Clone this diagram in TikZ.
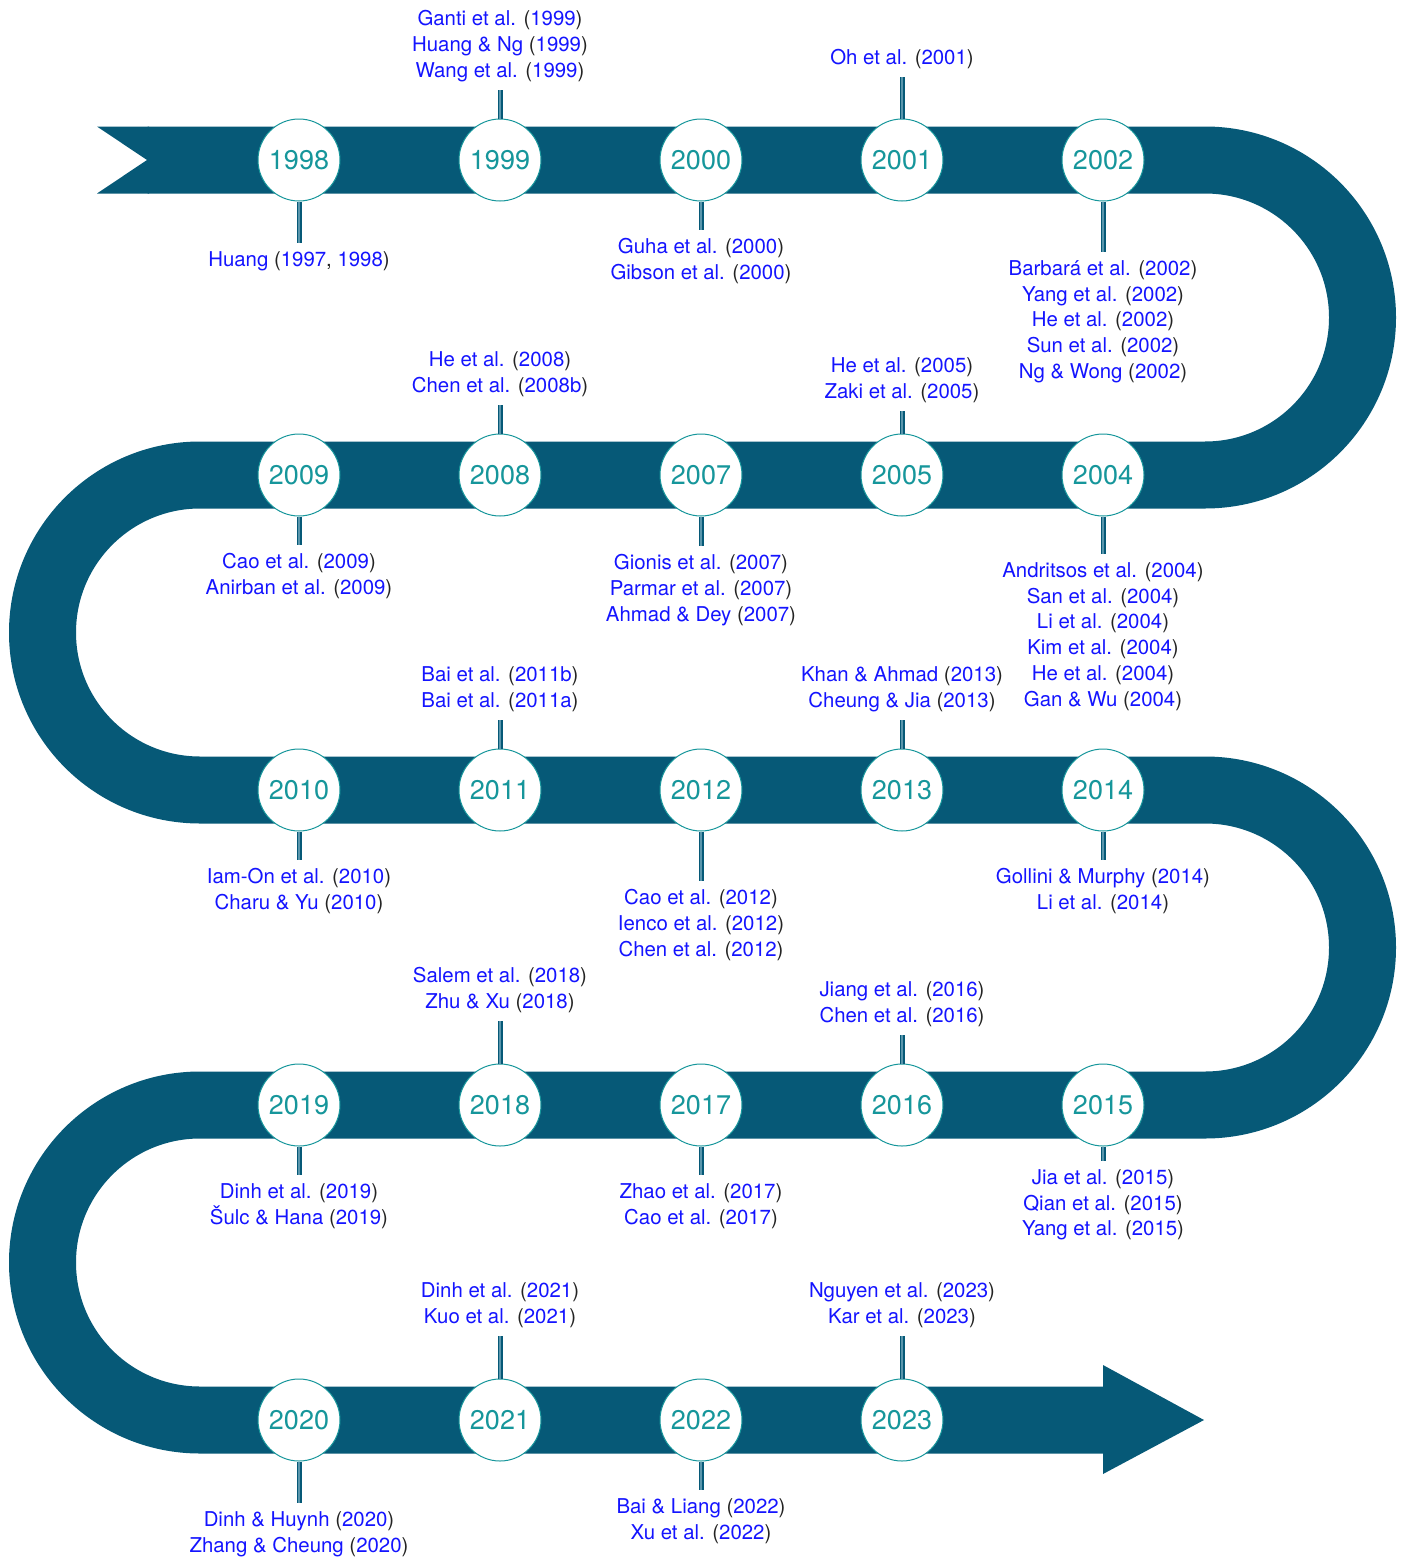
\documentclass[tikz,border=0pt]{standalone}
\usepackage{fontspec}
\setmainfont{TeX Gyre Heros}
\definecolor{bandc}{RGB}{6,89,119}
\definecolor{yteal}{RGB}{22,150,155}
\definecolor{cblue}{RGB}{20,20,255}
\definecolor{pgray}{RGB}{35,35,35}
\definecolor{cstripe}{RGB}{90,150,172}
\newcommand{\rf}[2]{\textcolor{cblue}{#1} \textcolor{pgray}{(}\textcolor{cblue}{#2}\textcolor{pgray}{)}}
\begin{document}
\begin{tikzpicture}[x=0.5pt,y=-0.5pt,
  bandline/.style={draw=bandc,line width=33.5pt,line cap=butt,line join=round},
  yr/.style={circle,draw=yteal,line width=0.5pt,fill=white,minimum size=41pt,inner sep=0pt,text=yteal,font=\fontsize{13.5}{15}\selectfont},
  reftext/.style={align=center,inner sep=4pt,font=\fontsize{10.2}{12.9}\selectfont},
  bel/.style={reftext,anchor=north},
  abv/.style={reftext,anchor=south},
  conn/.style={draw=bandc,double=cstripe,line width=0.7pt,double distance=1.1pt,line cap=butt}]
\useasboundingbox (0,0) rectangle (1403,1558);
% serpentine band
\draw[bandline] (147.6,160) -- (1205,160) arc[start angle=90,end angle=-90,radius=78.75pt]
  -- (200,475) arc[start angle=90,end angle=270,radius=78.75pt]
  -- (1205,790) arc[start angle=90,end angle=-90,radius=78.75pt]
  -- (200,1105) arc[start angle=90,end angle=270,radius=78.75pt]
  -- (1104,1420);
\fill[bandc] (97,126.5) -- (149,126.5) -- (149,193.5) -- (97,193.5) -- (147,160) -- cycle;
\fill[bandc] (1103,1365) -- (1204,1420) -- (1103,1474) -- cycle;
% row 1
\node[yr] (c1998) at (299,160) {1998};
\node[yr] (c1999) at (500,160) {1999};
\node[yr] (c2000) at (701,160) {2000};
\node[yr] (c2001) at (902,160) {2001};
\node[yr] (c2002) at (1103,160) {2002};
% row 2
\node[yr] (c2009) at (299,475) {2009};
\node[yr] (c2008) at (500,475) {2008};
\node[yr] (c2007) at (701,475) {2007};
\node[yr] (c2005) at (902,475) {2005};
\node[yr] (c2004) at (1103,475) {2004};
% row 3
\node[yr] (c2010) at (299,790) {2010};
\node[yr] (c2011) at (500,790) {2011};
\node[yr] (c2012) at (701,790) {2012};
\node[yr] (c2013) at (902,790) {2013};
\node[yr] (c2014) at (1103,790) {2014};
% row 4
\node[yr] (c2019) at (299,1105) {2019};
\node[yr] (c2018) at (500,1105) {2018};
\node[yr] (c2017) at (701,1105) {2017};
\node[yr] (c2016) at (902,1105) {2016};
\node[yr] (c2015) at (1103,1105) {2015};
% row 5
\node[yr] (c2020) at (299,1420) {2020};
\node[yr] (c2021) at (500,1420) {2021};
\node[yr] (c2022) at (701,1420) {2022};
\node[yr] (c2023) at (902,1420) {2023};
% texts
\node[bel] (t1998) at (299,243) {\textcolor{cblue}{Huang} \textcolor{pgray}{(}\textcolor{cblue}{1997}\textcolor{pgray}{, }\textcolor{cblue}{1998}\textcolor{pgray}{)}};
\node[abv] (t1999) at (500,90) {\rf{Ganti et al.}{1999}\\\rf{Huang \& Ng}{1999}\\\rf{Wang et al.}{1999}};
\node[bel] (t2000) at (701,230) {\rf{Guha et al.}{2000}\\\rf{Gibson et al.}{2000}};
\node[abv] (t2001) at (902,77) {\rf{Oh et al.}{2001}};
\node[bel] (t2002) at (1103,252) {\rf{Barbará et al.}{2002}\\\rf{Yang et al.}{2002}\\\rf{He et al.}{2002}\\\rf{Sun et al.}{2002}\\\rf{Ng \& Wong}{2002}};
\node[bel] (t2009) at (299,545) {\rf{Cao et al.}{2009}\\\rf{Anirban et al.}{2009}};
\node[abv] (t2008) at (500,405) {\rf{He et al.}{2008}\\\rf{Chen et al.}{2008b}};
\node[bel] (t2007) at (701,546) {\rf{Gionis et al.}{2007}\\\rf{Parmar et al.}{2007}\\\rf{Ahmad \& Dey}{2007}};
\node[abv] (t2005) at (902,411) {\rf{He et al.}{2005}\\\rf{Zaki et al.}{2005}};
\node[bel] (t2004) at (1103,554) {\rf{Andritsos et al.}{2004}\\\rf{San et al.}{2004}\\\rf{Li et al.}{2004}\\\rf{Kim et al.}{2004}\\\rf{He et al.}{2004}\\\rf{Gan \& Wu}{2004}};
\node[bel] (t2010) at (299,860) {\rf{Iam-On et al.}{2010}\\\rf{Charu \& Yu}{2010}};
\node[abv] (t2011) at (500,720) {\rf{Bai et al.}{2011b}\\\rf{Bai et al.}{2011a}};
\node[bel] (t2012) at (701,881) {\rf{Cao et al.}{2012}\\\rf{Ienco et al.}{2012}\\\rf{Chen et al.}{2012}};
\node[abv] (t2013) at (902,720) {\rf{Khan \& Ahmad}{2013}\\\rf{Cheung \& Jia}{2013}};
\node[bel] (t2014) at (1103,860) {\rf{Gollini \& Murphy}{2014}\\\rf{Li et al.}{2014}};
\node[bel] (t2019) at (299,1175) {\rf{Dinh et al.}{2019}\\\rf{Šulc \& Hana}{2019}};
\node[abv] (t2018) at (500,1021) {\rf{Salem et al.}{2018}\\\rf{Zhu \& Xu}{2018}};
\node[bel] (t2017) at (701,1175) {\rf{Zhao et al.}{2017}\\\rf{Cao et al.}{2017}};
\node[abv] (t2016) at (902,1035) {\rf{Jiang et al.}{2016}\\\rf{Chen et al.}{2016}};
\node[bel] (t2015) at (1103,1161) {\rf{Jia et al.}{2015}\\\rf{Qian et al.}{2015}\\\rf{Yang et al.}{2015}};
\node[bel] (t2020) at (299,1503) {\rf{Dinh \& Huynh}{2020}\\\rf{Zhang \& Cheung}{2020}};
\node[abv] (t2021) at (500,1336) {\rf{Dinh et al.}{2021}\\\rf{Kuo et al.}{2021}};
\node[bel] (t2022) at (701,1490) {\rf{Bai \& Liang}{2022}\\\rf{Xu et al.}{2022}};
\node[abv] (t2023) at (902,1336) {\rf{Nguyen et al.}{2023}\\\rf{Kar et al.}{2023}};
% connectors
\foreach \y in {1998,2000,2002,2009,2007,2004,2010,2012,2014,2019,2017,2015,2020,2022}
  \draw[conn] (c\y.south) -- (t\y.north);
\foreach \y in {1999,2001,2008,2005,2011,2013,2018,2016,2021,2023}
  \draw[conn] (c\y.north) -- (t\y.south);
\end{tikzpicture}
\end{document}
